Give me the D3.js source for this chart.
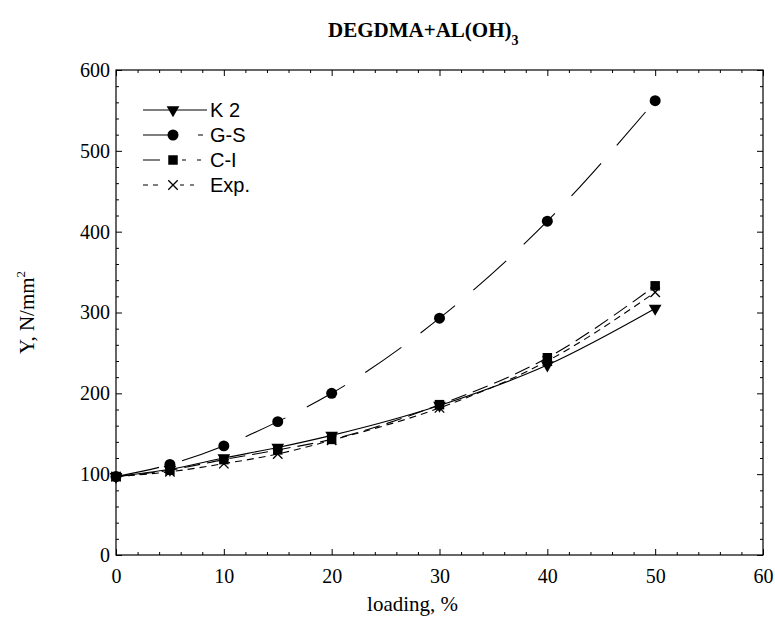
<!DOCTYPE html>
<html>
<head>
<meta charset="utf-8">
<script src="https://cdn.jsdelivr.net/npm/d3@7"></script>
<style>
    body { margin: 0; background: #fff; }
    .axis text { font-family: "Liberation Serif", serif; font-size: 20px; }
    .axis line { stroke: #000; }
    .axis path { display: none; }
</style>
</head>
<body>
<script>
// Loading in percent, the same for every series
var loading = [0, 5, 10, 15, 20, 30, 40, 50];

// Young's modulus Y (N/mm2) for each model and the experiment
var k2 = [97, 106, 120, 133, 148, 185, 235, 305];
var gs = [97, 112, 135, 165, 200, 293, 413, 562];
var ci = [97, 105, 118, 130, 143, 186, 244, 333];
var exper = [97, 103, 113, 125, 142, 182, 240, 325];

var seriesNames = ["K 2", "G-S", "C-I", "Exp."];

var xTicks = [0, 10, 20, 30, 40, 50, 60];
var yTicks = [0, 100, 200, 300, 400, 500, 600];

// margins keep room for the title, tick labels and axis titles
var margin = {top: 70, right: 12, bottom: 63, left: 116},
    width = 775 - margin.left - margin.right,
    height = 618 - margin.top - margin.bottom;

var svgRoot = d3.select("body").append("svg")
    .attr("width", 775)
    .attr("height", 618);

var svg = svgRoot.append("g")
    .attr("transform", "translate(" + margin.left + "," + margin.top + ")");

var xScale = d3.scaleLinear().domain([0, 60]).range([0, width]);
var yScale = d3.scaleLinear().domain([0, 600]).range([height, 0]);

// minor ticks: every 2 % on x, every 20 on y
var xMinor = d3.range(0, 61, 2).filter(function(v) { return v % 10; });
var yMinor = d3.range(0, 601, 20).filter(function(v) { return v % 100; });

// bottom and left axes with labels, ticks pointing inwards
svg.append("g")
    .attr("class", "axis")
    .attr("transform", "translate(0," + height + ")")
    .call(d3.axisBottom(xScale).tickValues(xTicks)
        .tickSize(-6).tickSizeOuter(0).tickPadding(14));

svg.append("g")
    .attr("class", "axis")
    .call(d3.axisLeft(yScale).tickValues(yTicks)
        .tickSize(-6).tickSizeOuter(0).tickPadding(6));

// top and right axes only repeat the ticks
svg.append("g")
    .attr("class", "axis")
    .call(d3.axisTop(xScale).tickValues(xTicks)
        .tickSize(-6).tickSizeOuter(0).tickFormat(""));

svg.append("g")
    .attr("class", "axis")
    .attr("transform", "translate(" + width + ",0)")
    .call(d3.axisRight(yScale).tickValues(yTicks)
        .tickSize(-6).tickSizeOuter(0).tickFormat(""));

// minor ticks on all four sides
[["b", 0, height], ["t", 0, 0]].forEach(function(s) {
    var ax = s[0] === "b" ? d3.axisBottom(xScale) : d3.axisTop(xScale);
    svg.append("g")
        .attr("class", "axis")
        .attr("transform", "translate(0," + s[2] + ")")
        .call(ax.tickValues(xMinor).tickSize(-3).tickSizeOuter(0)
            .tickFormat(""));
});
[["l", 0], ["r", width]].forEach(function(s) {
    var ax = s[0] === "l" ? d3.axisLeft(yScale) : d3.axisRight(yScale);
    svg.append("g")
        .attr("class", "axis")
        .attr("transform", "translate(" + s[1] + ",0)")
        .call(ax.tickValues(yMinor).tickSize(-3).tickSizeOuter(0)
            .tickFormat(""));
});

// frame
svg.append("rect")
    .attr("width", width)
    .attr("height", height)
    .attr("fill", "none")
    .attr("stroke", "#000")
    .attr("stroke-width", 1.2);

// series table built from the arrays above
// legDash is the dash pattern of the short legend sample
var series = [
    {name: seriesNames[0], values: k2, dash: null,
        legDash: null, marker: "tri"},
    {name: seriesNames[1], values: gs, dash: "44,24",
        legDash: "26,29,5,10", marker: "circle"},
    {name: seriesNames[2], values: ci, dash: "16,7",
        legDash: "17,22,4,11,4,10", marker: "square"},
    {name: seriesNames[3], values: exper, dash: "7,5",
        legDash: "5,5,5,22,4,6,4,20", marker: "cross"}
];

var line = d3.line()
    .curve(d3.curveMonotoneX)
    .x(function(d) { return xScale(d[0]); })
    .y(function(d) { return yScale(d[1]); });

function markerPath(type) {
    if (type === "tri") {
        return d3.symbol().type(d3.symbolTriangle).size(70)();
    }
    if (type === "circle") {
        return d3.symbol().type(d3.symbolCircle).size(95)();
    }
    if (type === "square") {
        return d3.symbol().type(d3.symbolSquare).size(90)();
    }
    return d3.symbol().type(d3.symbolTimes).size(60)();
}

function drawMarker(g, type, x, y) {
    var p = g.append("path")
        .attr("d", markerPath(type));
    if (type === "tri") {
        p.attr("transform", "translate(" + x + "," + y + ") rotate(180)");
    } else {
        p.attr("transform", "translate(" + x + "," + y + ")");
    }
    if (type === "cross") {
        p.attr("fill", "none").attr("stroke", "#000")
            .attr("stroke-width", 1.3);
    } else {
        p.attr("fill", "#000");
    }
}

series.forEach(function(s) {
    var pts = loading.map(function(v, i) { return [v, s.values[i]]; });
    svg.append("path")
        .datum(pts)
        .attr("d", line)
        .attr("fill", "none")
        .attr("stroke", "#000")
        .attr("stroke-width", 1.1)
        .attr("stroke-dasharray", s.dash);
    pts.forEach(function(p) {
        drawMarker(svg, s.marker, xScale(p[0]), yScale(p[1]));
    });
});

// legend
var legend = svg.append("g")
    .attr("transform", "translate(27,40)");

series.forEach(function(s, i) {
    var gy = i * 25;
    legend.append("line")
        .attr("x1", 0).attr("x2", 64)
        .attr("y1", gy).attr("y2", gy)
        .attr("stroke", "#000")
        .attr("stroke-width", 1.1)
        .attr("stroke-dasharray", s.legDash);
    drawMarker(legend, s.marker, 30, gy);
    legend.append("text")
        .attr("x", 67)
        .attr("y", gy + 7)
        .attr("font-family", "Liberation Sans, sans-serif")
        .attr("font-size", "20px")
        .text(s.name);
});

// title
var title = svgRoot.append("text")
    .attr("x", 328)
    .attr("y", 37)
    .attr("font-family", "Liberation Serif, serif")
    .attr("font-weight", "bold")
    .attr("font-size", "21px");
title.append("tspan").text("DEGDMA+AL(OH)");
title.append("tspan").attr("dy", 8).attr("font-size", "14px").text("3");

// axis titles
svgRoot.append("text")
    .attr("x", margin.left + xScale(27.5))
    .attr("y", 611)
    .attr("text-anchor", "middle")
    .attr("font-family", "Liberation Serif, serif")
    .attr("font-size", "21px")
    .text("loading, %");

var ylab = svgRoot.append("text")
    .attr("transform", "translate(34," + (margin.top + height / 2) + ") rotate(-90)")
    .attr("text-anchor", "middle")
    .attr("font-family", "Liberation Serif, serif")
    .attr("font-size", "21px");
ylab.append("tspan").text("Y, N/mm");
ylab.append("tspan").attr("dy", -9).attr("font-size", "13px").text("2");
</script>
</body>
</html>
